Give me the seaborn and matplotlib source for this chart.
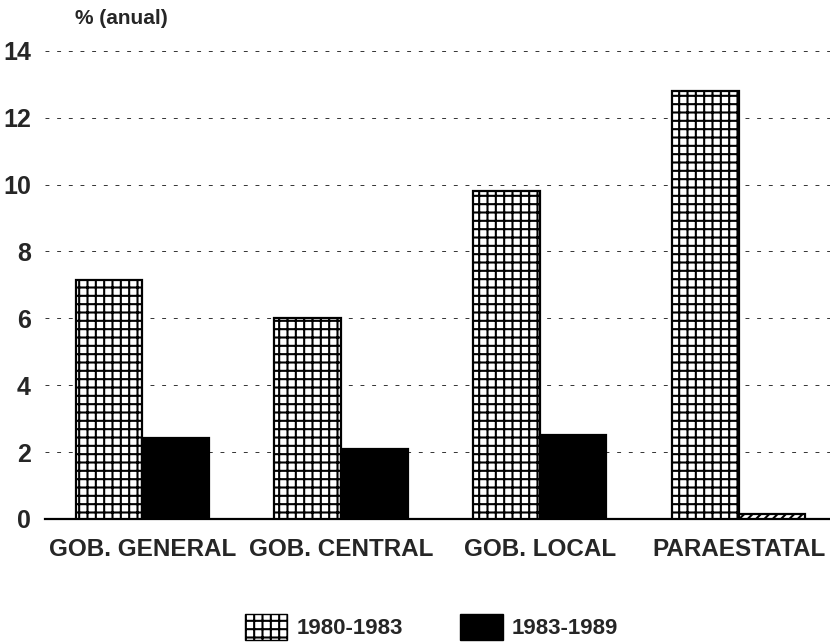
import numpy as np
import pandas as pd
import seaborn as sns
from matplotlib import pyplot as plt
from matplotlib.patches import Patch

categories = ['GOB. GENERAL', 'GOB. CENTRAL', 'GOB. LOCAL', 'PARAESTATAL']
periods = ['1980-1983', '1983-1989']
values_8083 = [7.15, 6.0, 9.8, 12.8]
values_8389 = [2.42, 2.1, 2.5, 0.15]
y_ticks = [0, 2, 4, 6, 8, 10, 12, 14]

data = pd.DataFrame({
    'sector': categories * 2,
    'periodo': [periods[0]] * 4 + [periods[1]] * 4,
    'valor': values_8083 + values_8389,
})

sns.set_style('white')
plt.rcParams['font.family'] = ['Liberation Sans', 'DejaVu Sans']
plt.rcParams['font.weight'] = 'bold'
plt.rcParams['hatch.linewidth'] = 1.5
plt.rcParams['hatch.color'] = 'black'

fig = plt.figure(figsize=(8.3, 6.43), dpi=100)
ax = fig.add_axes([0.054, 0.193, 0.946, 0.728])

sns.barplot(data=data, x='sector', y='valor', hue='periodo',
            order=categories, hue_order=periods,
            palette={periods[0]: 'white', periods[1]: 'black'},
            saturation=1, width=0.67, edgecolor='black', linewidth=1.6,
            legend=False, ax=ax, zorder=3)

for bar in ax.containers[0]:
    bar.set_hatch('++')
# the tiny PARAESTATAL bar is drawn with diagonal hatch
last = ax.containers[1][-1]
last.set_facecolor('white')
last.set_hatch('////')

ax.set_ylim(0, 14)
ax.set_xlim(-0.49, 3.46)
ax.set_yticks(y_ticks)
ax.set_yticklabels([str(t) for t in y_ticks], fontsize=18, fontweight='bold')
ax.set_xticks(range(len(categories)))
ax.set_xticklabels(categories, fontsize=17.5, fontweight='bold')
ax.tick_params(axis='x', length=0, pad=14)
ax.tick_params(axis='y', length=6, width=1.6, direction='out', pad=4)
ax.set_xlabel('')
ax.set_ylabel('')

ax.yaxis.grid(True, linestyle=(0, (4, 8)), color='#333333', linewidth=0.7)
ax.set_axisbelow(True)
for side in ['left', 'top', 'right']:
    ax.spines[side].set_visible(False)
ax.spines['bottom'].set_linewidth(1.6)
ax.spines['bottom'].set_color('black')

fig.text(0.09, 0.972, '% (anual)', fontsize=15, fontweight='bold', ha='left', va='center')

handles = [Patch(facecolor='white', edgecolor='black', hatch='++', label=periods[0]),
           Patch(facecolor='black', edgecolor='black', label=periods[1])]
fig.legend(handles=handles, loc='center', bbox_to_anchor=(0.52, 0.025),
           ncol=2, frameon=False, fontsize=16, handlelength=1.9, handleheight=1.4,
           columnspacing=2.6, handletextpad=0.4, borderpad=0)

fig.savefig('out.png', dpi=100)
